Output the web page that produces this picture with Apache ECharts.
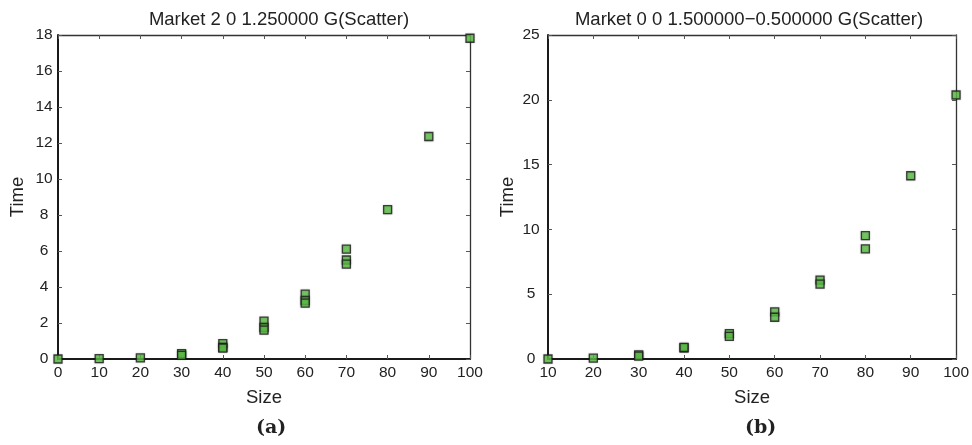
<!DOCTYPE html>
<html>
<head>
<meta charset="utf-8">
<script src="https://cdn.jsdelivr.net/npm/echarts@6/dist/echarts.min.js"></script>
<style>
html,body{margin:0;padding:0;background:#fff;}
#c{width:972px;height:445px;}
</style>
</head>
<body>
<div id="c"></div>
<script>
// ---- data ----
const titleA = 'Market 2 0 1.250000 G(Scatter)';
const titleB = 'Market 0 0 1.500000\u22120.500000 G(Scatter)';
const sizeA = [0, 10, 20, 30, 30, 40, 40, 40, 50, 50, 50, 60, 60, 60, 70, 70, 70, 80, 90, 100];
const timeA = [0, 0.02, 0.06, 0.3, 0.2, 0.85, 0.65, 0.6, 2.1, 1.75, 1.6, 3.6, 3.25, 3.1, 6.1, 5.5, 5.27, 8.3, 12.36, 17.82];
const sizeB = [10, 20, 30, 30, 40, 40, 50, 50, 60, 60, 70, 70, 80, 80, 90, 100];
const timeB = [0, 0.06, 0.32, 0.22, 0.85, 0.9, 1.96, 1.75, 3.63, 3.22, 6.09, 5.78, 9.52, 8.5, 14.14, 20.37];
const xRangeA = [0, 100, 10];
const yRangeA = [0, 18, 2];
const xRangeB = [10, 100, 10];
const yRangeB = [0, 25, 5];
const xName = 'Size';
const yName = 'Time';
const captions = ['(a)', '(b)'];

const FONT = '"Liberation Sans", Arial, sans-serif';
const chart = echarts.init(document.getElementById('c'), null, {renderer: 'canvas'});

function xAxes(grid, r) {
  return [
    {type: 'value', gridIndex: grid, position: 'bottom', min: r[0], max: r[1], interval: r[2],
     name: xName, nameLocation: 'middle', nameGap: 29,
     nameTextStyle: {fontFamily: FONT, fontSize: 18.5, color: '#222'},
     axisLine: {show: true, onZero: false, lineStyle: {color: '#1a1a1a', width: 2}},
     axisTick: {show: true, inside: true, length: 4, lineStyle: {color: '#555'}},
     axisLabel: {fontFamily: FONT, fontSize: 15.5, color: '#222', margin: 6},
     splitLine: {show: false}},
    {type: 'value', gridIndex: grid, position: 'top', min: r[0], max: r[1], interval: r[2],
     axisLine: {show: true, onZero: false, lineStyle: {color: '#333', width: 1.3}},
     axisTick: {show: true, inside: true, length: 4, lineStyle: {color: '#555'}},
     axisLabel: {show: false}, splitLine: {show: false}}
  ];
}
function yAxes(grid, r, margin) {
  return [
    {type: 'value', gridIndex: grid, position: 'left', min: r[0], max: r[1], interval: r[2],
     name: yName, nameLocation: 'middle', nameGap: 31, nameRotate: 90,
     nameTextStyle: {fontFamily: FONT, fontSize: 18.5, color: '#222'},
     axisLine: {show: true, onZero: false, lineStyle: {color: '#1a1a1a', width: 2}},
     axisTick: {show: true, inside: true, length: 4, lineStyle: {color: '#555'}},
     axisLabel: {fontFamily: FONT, fontSize: 15.5, color: '#222', margin: margin, align: 'center'},
     splitLine: {show: false}},
    {type: 'value', gridIndex: grid, position: 'right', min: r[0], max: r[1], interval: r[2],
     axisLine: {show: true, onZero: false, lineStyle: {color: '#333', width: 1.3}},
     axisTick: {show: true, inside: true, length: 4, lineStyle: {color: '#555'}},
     axisLabel: {show: false}, splitLine: {show: false}}
  ];
}
function pts(xs, ys) { return xs.map((x, i) => [x, ys[i]]); }
const markerStyle = {color: '#5cc046', borderColor: '#1c1c1c', borderWidth: 1.3,
  shadowColor: 'rgba(0,0,0,0.25)', shadowBlur: 2};

chart.setOption({
  animation: false,
  backgroundColor: '#fff',
  title: [
    {text: titleA, left: 274, top: 5, textAlign: 'center',
     textStyle: {fontFamily: FONT, fontSize: 18.5, fontWeight: 'normal', color: '#222'}},
    {text: titleB, left: 744, top: 5, textAlign: 'center',
     textStyle: {fontFamily: FONT, fontSize: 18.5, fontWeight: 'normal', color: '#222'}}
  ],
  grid: [
    {left: 58, right: 502, top: 35, bottom: 86},
    {left: 548, right: 12, top: 35, bottom: 86}
  ],
  xAxis: [...xAxes(0, xRangeA), ...xAxes(1, xRangeB)],
  yAxis: [...yAxes(0, yRangeA, 14), ...yAxes(1, yRangeB, 17)],
  series: [
    {type: 'scatter', xAxisIndex: 0, yAxisIndex: 0, symbol: 'rect', symbolSize: 8, clip: false,
     itemStyle: markerStyle, data: pts(sizeA, timeA), z: 5},
    {type: 'scatter', xAxisIndex: 2, yAxisIndex: 2, symbol: 'rect', symbolSize: 8, clip: false,
     itemStyle: markerStyle, data: pts(sizeB, timeB), z: 5}
  ],
  graphic: [
    {type: 'text', left: 256, top: 419, style: {text: captions[0], fontFamily: '"DejaVu Serif", serif',
     fontWeight: 'bold', fontSize: 19, fill: '#222'}},
    {type: 'text', left: 745, top: 419, style: {text: captions[1], fontFamily: '"DejaVu Serif", serif',
     fontWeight: 'bold', fontSize: 19, fill: '#222'}}
  ]
});
</script>
</body>
</html>
